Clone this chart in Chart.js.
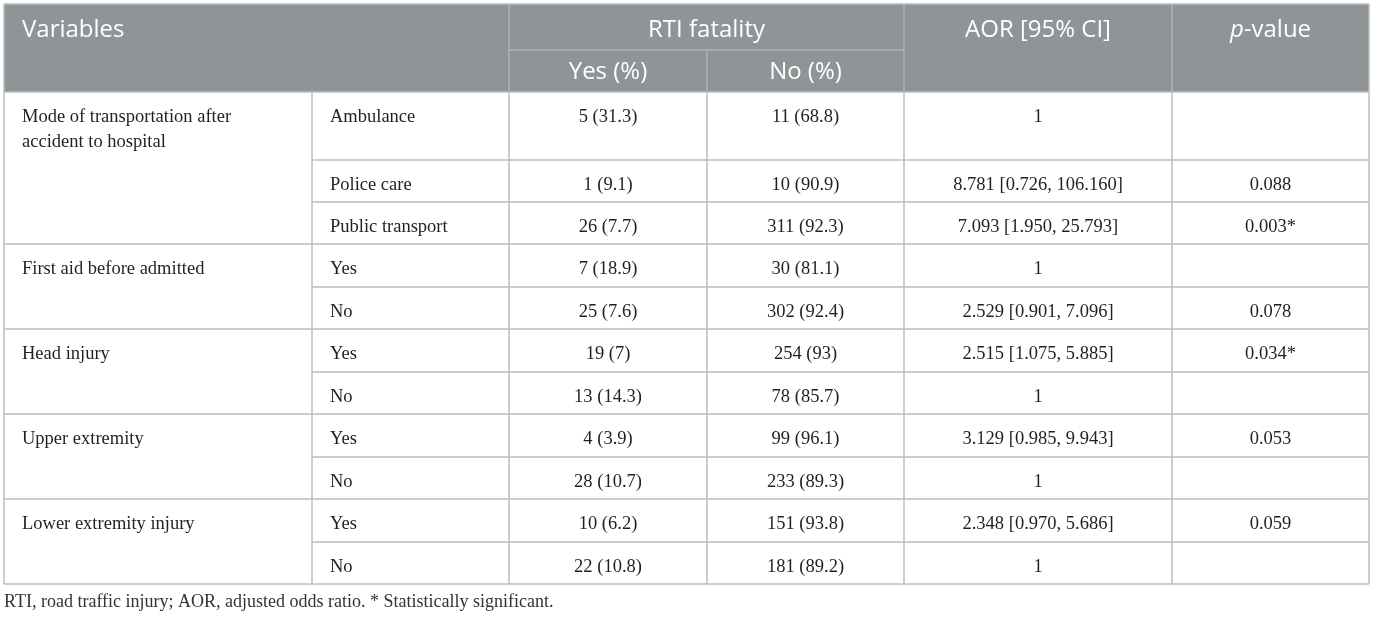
<!DOCTYPE html>
<html>
<head>
<meta charset="utf-8">
<script src="https://cdn.jsdelivr.net/npm/chart.js@4.4.1/dist/chart.umd.min.js"></script>
<style>
  html, body { margin: 0; padding: 0; background: #fff; }
  canvas { display: block; }
</style>
</head>
<body>
<canvas id="tbl" width="1375" height="617"></canvas>
<script>
// table content
const groupLabels = ['Mode of transportation after\naccident to hospital', 'First aid before admitted', 'Head injury', 'Upper extremity', 'Lower extremity injury'];
const groupSizes = [3, 2, 2, 2, 2];
const categories = ['Ambulance', 'Police care', 'Public transport', 'Yes', 'No', 'Yes', 'No', 'Yes', 'No', 'Yes', 'No'];
const yesCount = [5, 1, 26, 7, 25, 19, 13, 4, 28, 10, 22];
const yesPct = [31.3, 9.1, 7.7, 18.9, 7.6, 7, 14.3, 3.9, 10.7, 6.2, 10.8];
const noCount = [11, 10, 311, 30, 302, 254, 78, 99, 233, 151, 181];
const noPct = [68.8, 90.9, 92.3, 81.1, 92.4, 93, 85.7, 96.1, 89.3, 93.8, 89.2];
const aor = [1, 8.781, 7.093, 1, 2.529, 2.515, 1, 3.129, 1, 2.348, 1];
const ciLow = [null, 0.726, 1.950, null, 0.901, 1.075, null, 0.985, null, 0.970, null];
const ciHigh = [null, 106.160, 25.793, null, 7.096, 5.885, null, 9.943, null, 5.686, null];
const pValues = [null, 0.088, 0.003, null, 0.078, 0.034, null, 0.053, null, 0.059, null];
const footnote = 'RTI, road traffic injury; AOR, adjusted odds ratio. * Statistically significant.';

// layout (in scale units, the scales span the canvas)
const colEdges = [4, 312, 509, 707, 904, 1172, 1369];
const headTop = 4, headMid = 50, headBottom = 92;
const rowEdges = [92, 160, 202, 244, 287, 329, 372, 414, 457, 499, 542, 584];

const headFill = '#8f9597';
const headLine = '#aeb2b4';
const gridLine = '#bcbcbc';
const bodyFont = '18.5px "Liberation Serif"';
const headFont = '24px "Open Sans"';

function cellText(i) {
  const ci = ciLow[i] === null ? '' : ' [' + ciLow[i].toFixed(3) + ', ' + ciHigh[i].toFixed(3) + ']';
  const a = aor[i] === 1 ? '1' : aor[i].toFixed(3) + ci;
  let p = '';
  if (pValues[i] !== null) p = pValues[i].toFixed(3) + (pValues[i] < 0.05 ? '*' : '');
  return [
    yesCount[i] + ' (' + yesPct[i] + ')',
    noCount[i] + ' (' + noPct[i] + ')',
    a,
    p
  ];
}

const tablePlugin = {
  id: 'tablePlugin',
  afterDraw(chart) {
    const ctx = chart.ctx;
    const X = v => chart.scales.x.getPixelForValue(v);
    const Y = v => chart.scales.y.getPixelForValue(v);
    const L = colEdges.map(X);

    ctx.save();
    // header band
    ctx.fillStyle = headFill;
    ctx.fillRect(L[0], Y(headTop), L[6] - L[0], Y(headBottom) - Y(headTop));

    ctx.lineWidth = 1.5;
    ctx.strokeStyle = headLine;
    const line = (x1, y1, x2, y2) => {
      ctx.beginPath(); ctx.moveTo(x1, y1); ctx.lineTo(x2, y2); ctx.stroke();
    };
    [2, 4, 5].forEach(c => line(L[c], Y(headTop), L[c], Y(headBottom)));
    line(L[2], Y(headMid), L[4], Y(headMid));
    line(L[3], Y(headMid), L[3], Y(headBottom));

    // body grid
    ctx.strokeStyle = gridLine;
    let r = 0;
    groupSizes.forEach(n => {
      line(L[0], Y(rowEdges[r]), L[6], Y(rowEdges[r]));
      for (let k = 1; k < n; k++) line(L[1], Y(rowEdges[r + k]), L[6], Y(rowEdges[r + k]));
      r += n;
    });
    line(L[0], Y(rowEdges[r]), L[6], Y(rowEdges[r]));
    for (let c = 1; c < 6; c++) line(L[c], Y(headBottom), L[c], Y(rowEdges[r]));
    line(L[0], Y(headTop), L[0], Y(rowEdges[r]));
    line(L[6], Y(headTop), L[6], Y(rowEdges[r]));
    line(L[0], Y(headTop), L[6], Y(headTop));

    // header text
    ctx.fillStyle = '#ffffff';
    ctx.font = headFont;
    ctx.textBaseline = 'middle';
    ctx.textAlign = 'left';
    ctx.fillText('Variables', L[0] + 18, Y(30));
    ctx.textAlign = 'center';
    ctx.fillText('RTI fatality', (L[2] + L[4]) / 2, Y(30));
    ctx.fillText('Yes (%)', (L[2] + L[3]) / 2, Y(72));
    ctx.fillText('No (%)', (L[3] + L[4]) / 2, Y(72));
    ctx.fillText('AOR [95% CI]', (L[4] + L[5]) / 2, Y(30));
    // p-value with italic p
    ctx.textAlign = 'left';
    const rest = '-value';
    ctx.font = 'italic ' + headFont;
    const wp = ctx.measureText('p').width;
    ctx.font = headFont;
    const wr = ctx.measureText(rest).width;
    const px = (L[5] + L[6]) / 2 - (wp + wr) / 2;
    ctx.font = 'italic ' + headFont;
    ctx.fillText('p', px, Y(30));
    ctx.font = headFont;
    ctx.fillText(rest, px + wp, Y(30));

    // body text
    ctx.fillStyle = '#231f20';
    ctx.font = bodyFont;
    r = 0;
    groupLabels.forEach((g, gi) => {
      ctx.textAlign = 'left';
      g.split('\n').forEach((ln, li) => ctx.fillText(ln, L[0] + 18, Y(rowEdges[r] + 25 + li * 25)));
      r += groupSizes[gi];
    });
    categories.forEach((c, i) => {
      const yy = Y(rowEdges[i] + 25);
      ctx.textAlign = 'left';
      ctx.fillText(c, L[1] + 18, yy);
      ctx.textAlign = 'center';
      cellText(i).forEach((t, k) => ctx.fillText(t, (L[2 + k] + L[3 + k]) / 2, yy));
    });

    // footnote
    ctx.textAlign = 'left';
    ctx.font = '18px "Liberation Serif"';
    ctx.fillStyle = '#333333';
    ctx.fillText(footnote, L[0], Y(602));
    ctx.restore();
  }
};

new Chart(document.getElementById('tbl'), {
  type: 'scatter',
  data: { datasets: [] },
  options: {
    responsive: false,
    animation: false,
    devicePixelRatio: 1,
    layout: { padding: 0 },
    plugins: { legend: { display: false }, tooltip: { enabled: false } },
    scales: {
      x: { type: 'linear', min: 0, max: 1375, display: false },
      y: { type: 'linear', min: 0, max: 617, reverse: true, display: false }
    }
  },
  plugins: [tablePlugin]
});
</script>
</body>
</html>
